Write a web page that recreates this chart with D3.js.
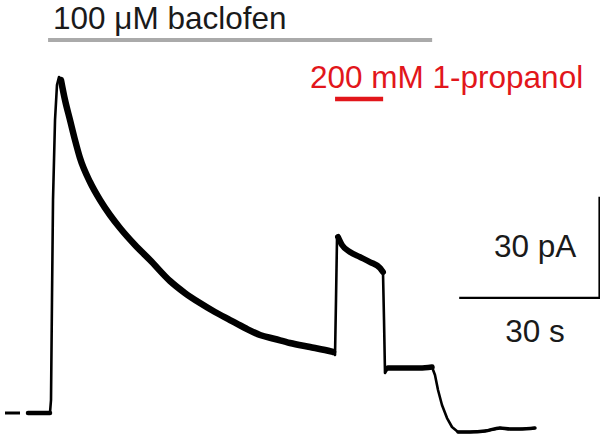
<!DOCTYPE html>
<html><head><meta charset="utf-8">
<script src="https://cdn.jsdelivr.net/npm/d3@7"></script>
<style>html,body{margin:0;padding:0;background:#fff;}svg{display:block;}</style>
</head><body>
<script>
// Time (s) and current (pA)
const traceTime = [0,4.71,4.93,5.14,5.36,5.79,6.21,6.64,7.07,7.93,9.0,10.07,11.14,13.29,15.43,17.57,19.71,22.93,26.14,30.43,33.64,36.86,40.07,43.29,46.5,49.71,52.93,56.14,60.43,63.64,65.36,65.79,66.0,66.21,66.43,67.29,69.0,71.14,73.29,75.43,76.07,76.29,76.5,77.14,79.71,84.0,86.57,87.21,87.86,88.71,89.79,90.86,92.14,94.71,97.93,101.14,103.29,105.43,108.64];
const traceCurrent = [0,0,3.86,33.56,63.27,87.03,97.43,99.8,98.91,92.97,87.03,81.09,75.74,68.61,63.27,58.81,54.95,49.9,45.45,39.21,35.64,32.67,30.0,27.62,25.25,23.17,21.98,20.79,19.6,18.71,18.12,17.23,33.56,51.39,52.28,49.9,47.82,46.34,44.85,43.07,41.88,27.62,11.88,13.37,13.37,13.37,13.66,11.29,6.83,2.38,-1.49,-4.16,-5.64,-5.64,-5.35,-4.46,-4.75,-4.75,-4.46];
const noisyRanges = [[0,4.71],[7.0,65.4],[66.4,76.1],[77.1,86.6],[92,108.7]];
const baselineDash = [-4.93,-1.71];
const baclofen = {label:"100 \u03BCM baclofen", start:4.3, end:86.6};
const propanol = {label:"200 mM 1-propanol", start:65.8, end:76.1};
const scaleBarTime = {start:92.4, length:30, label:"30 s"};
const scaleBarCurrent = {start:34.2, length:30, label:"30 pA"};

const W=600,H=438;
const svg=d3.select("body").append("svg").attr("width",W).attr("height",H);
const x=d3.scaleLinear().domain([0,30]).range([28,168]);
const y=d3.scaleLinear().domain([0,30]).range([413,312]);
const data=traceTime.map((t,i)=>({t,v:traceCurrent[i]}));
const line=d3.line().x(d=>x(d.t)).y(d=>y(d.v));
const font="Liberation Sans, Arial, Helvetica, sans-serif";
const fs=31.5;

// baseline dash
svg.append("line").attr("x1",x(baselineDash[0])).attr("x2",x(baselineDash[1]))
  .attr("y1",y(0)).attr("y2",y(0)).attr("stroke","#000").attr("stroke-width",3);

// trace
svg.append("path").datum(data).attr("d",line).attr("fill","none")
  .attr("stroke","#000").attr("stroke-width",2.6).attr("stroke-linejoin","round");
const widths=[4.5,6.5,6,5.5,3.4];
noisyRanges.forEach((r,i)=>{
  const seg=data.filter(d=>d.t>=r[0]&&d.t<=r[1]);
  svg.append("path").datum(seg).attr("d",d3.line().x(d=>x(d.t)).y(d=>y(d.v)).curve(d3.curveMonotoneX))
    .attr("fill","none").attr("stroke","#000").attr("stroke-width",widths[i])
    .attr("stroke-linejoin","round").attr("stroke-linecap","round");
});

// baclofen bar
svg.append("line").attr("x1",x(baclofen.start)).attr("x2",x(baclofen.end))
  .attr("y1",40).attr("y2",40).attr("stroke","#aaaaaa").attr("stroke-width",4);
svg.append("text").attr("x",x(baclofen.start)+5).attr("y",29).text(baclofen.label)
  .attr("font-family",font).attr("font-size",fs).attr("fill","#1a1a1a");

// propanol bar
svg.append("line").attr("x1",x(propanol.start)).attr("x2",x(propanol.end))
  .attr("y1",99).attr("y2",99).attr("stroke","#e2161b").attr("stroke-width",4.5);
svg.append("text").attr("x",310).attr("y",88).text(propanol.label)
  .attr("font-family",font).attr("font-size",fs).attr("fill","#e2161b");

// scale bars
const sx0=x(scaleBarTime.start), sx1=x(scaleBarTime.start+scaleBarTime.length);
const sy0=y(scaleBarCurrent.start), sy1=y(scaleBarCurrent.start+scaleBarCurrent.length);
svg.append("line").attr("x1",sx0).attr("x2",sx1+1).attr("y1",sy0).attr("y2",sy0)
  .attr("stroke","#000").attr("stroke-width",2.2);
svg.append("line").attr("x1",sx1).attr("x2",sx1).attr("y1",sy0).attr("y2",sy1)
  .attr("stroke","#000").attr("stroke-width",1.6);
svg.append("text").attr("x",494).attr("y",257).text(scaleBarCurrent.label)
  .attr("font-family",font).attr("font-size",fs).attr("fill","#1a1a1a");
svg.append("text").attr("x",535).attr("y",342).attr("text-anchor","middle").text(scaleBarTime.label)
  .attr("font-family",font).attr("font-size",fs).attr("fill","#1a1a1a");
</script>
</body></html>
